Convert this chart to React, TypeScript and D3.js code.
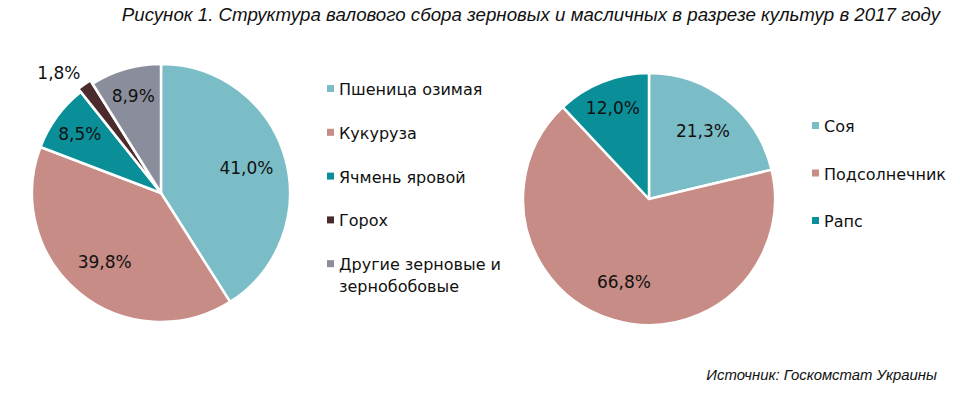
import React from 'react';
import * as d3 from 'd3';

// Зерновые
const grainNames = ['Пшеница озимая', 'Кукуруза', 'Ячмень яровой', 'Горох', 'Другие зерновые и зернобобовые'];
const grainValues = [41.0, 39.8, 8.5, 1.8, 8.9];
const grainColors = ['#7bbdc7', '#c68c85', '#0a8f99', '#4b2b2c', '#8a8d9b'];

// Масличные
const oilNames = ['Соя', 'Подсолнечник', 'Рапс'];
const oilValues = [21.3, 66.8, 12.0];
const oilColors = ['#7bbdc7', '#c68c85', '#0a8f99'];

const W = 960;
const H = 395;
const FONT = '"DejaVu Sans", Verdana, sans-serif';

type PieProps = {
  cx: number;
  cy: number;
  r: number;
  values: number[];
  colors: string[];
};

const fmt = (v: number) => v.toFixed(1).replace('.', ',') + '%';

const Pie = ({ cx, cy, r, values, colors }: PieProps) => {
  const arcs = d3.pie<number>().sort(null).value(d => d)(values);
  const arc = d3.arc<d3.PieArcDatum<number>>().innerRadius(0).outerRadius(r);

  // куда ставить подпись: внутри для больших долей, снаружи для мелких
  const labelPos = (a: d3.PieArcDatum<number>) => {
    let mid = (a.startAngle + a.endAngle) / 2;
    let k = a.data < 15 ? 0.78 : 0.69;
    if (a.data < 3) {
      k = 1.22;
      mid -= 0.09;
    }
    return [Math.sin(mid) * r * k, -Math.cos(mid) * r * k];
  };

  const explode = (a: d3.PieArcDatum<number>) => {
    if (a.data >= 3) return '';
    const mid = (a.startAngle + a.endAngle) / 2;
    return `translate(${Math.sin(mid) * 4},${-Math.cos(mid) * 4})`;
  };

  return (
    <g transform={`translate(${cx},${cy})`}>
      {arcs.map((a, i) => (
        <path
          key={i}
          d={arc(a) || ''}
          transform={explode(a)}
          fill={colors[i]}
          stroke="#fff"
          strokeWidth={2.5}
          strokeLinejoin="round"
        />
      ))}
      {arcs.map((a, i) => {
        const [x, y] = labelPos(a);
        return (
          <text
            key={'l' + i}
            x={x}
            y={y}
            textAnchor="middle"
            dominantBaseline="central"
            fontFamily={FONT}
            fontSize={17}
            fill="#111"
          >
            {fmt(a.data)}
          </text>
        );
      })}
    </g>
  );
};

type LegendProps = {
  x: number;
  y: number;
  step: number;
  names: string[];
  colors: string[];
};

const Legend = ({ x, y, step, names, colors }: LegendProps) => (
  <g>
    {names.map((n, i) => {
      const yy = y + i * step;
      // длинную подпись переносим на две строки
      const words = n.split(' ');
      const lines = n.length > 20 ? [words.slice(0, 3).join(' '), words.slice(3).join(' ')] : [n];
      return (
        <g key={n}>
          <rect x={x} y={yy - 4} width={7} height={7} fill={colors[i]} />
          <text x={x + 12} y={yy} fontFamily={FONT} fontSize={16} fill="#111" dominantBaseline="central">
            {lines.map((l, j) => (
              <tspan key={j} x={x + 12} dy={j === 0 ? 0 : 22}>
                {l}
              </tspan>
            ))}
          </text>
        </g>
      );
    })}
  </g>
);

export default function App() {
  return (
    <svg
      width={W}
      height={H}
      style={{ position: 'absolute', left: 0, top: 0, background: '#fff' }}
    >
      <rect width={W} height={H} fill="#fff" />
      <text
        x={940}
        y={21}
        textAnchor="end"
        fontFamily='"Liberation Sans", Arial, sans-serif'
        fontStyle="italic"
        fontSize={18.7}
        fill="#111"
      >
        Рисунок 1. Структура валового сбора зерновых и масличных в разрезе культур в 2017 году
      </text>

      <Pie cx={161} cy={193} r={129} values={grainValues} colors={grainColors} />
      <Legend x={327} y={89} step={43.8} names={grainNames} colors={grainColors} />

      <Pie cx={649} cy={199} r={126} values={oilValues} colors={oilColors} />
      <Legend x={812} y={126} step={47.5} names={oilNames} colors={oilColors} />

      <text
        x={937}
        y={380}
        textAnchor="end"
        fontFamily='"Liberation Sans", Arial, sans-serif'
        fontStyle="italic"
        fontSize={14.9}
        fill="#111"
      >
        Источник: Госкомстат Украины
      </text>
    </svg>
  );
}
